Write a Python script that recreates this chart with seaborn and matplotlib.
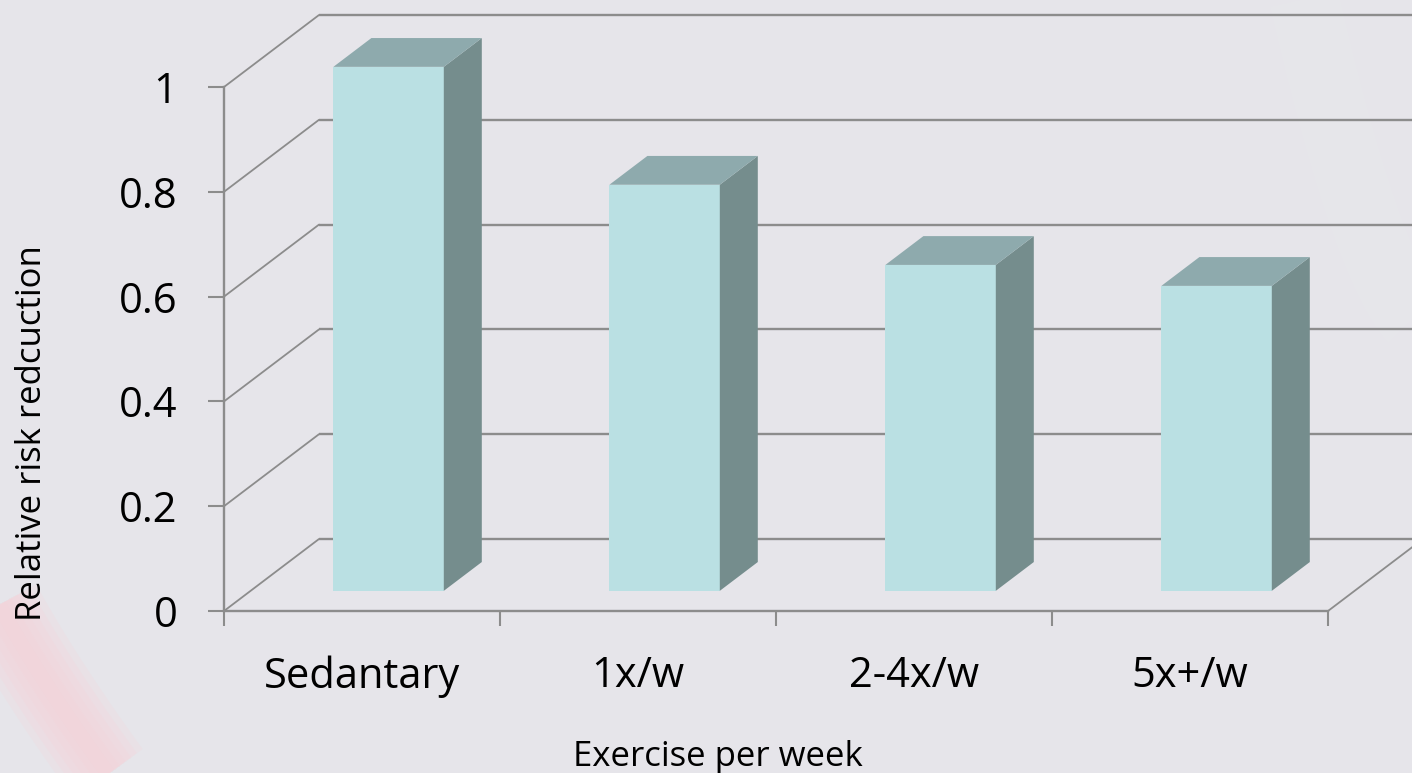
import matplotlib
matplotlib.use("Agg")
import matplotlib.pyplot as plt
import matplotlib.transforms as mtransforms
from matplotlib.patches import Polygon
from matplotlib.lines import Line2D
import numpy as np
import pandas as pd
import seaborn as sns

# ---- data -------------------------------------------------------------
categories = ["Sedantary", "1x/w", "2-4x/w", "5x+/w"]
risk = [1.0, 0.775, 0.622, 0.582]
y_ticks = [0, 0.2, 0.4, 0.6, 0.8, 1]
y_tick_labels = ["0", "0.2", "0.4", "0.6", "0.8", "1"]
x_title = "Exercise per week"
y_title = "Relative risk redcuction"

# ---- style ------------------------------------------------------------
BG = "#e6e5ea"
FRONT = "#bae0e3"
TOP = "#8eaaad"
SIDE = "#758d8d"
GRID = "#8c8c8c"
PINK = "#f7d3d9"

W, H, DPI = 1412, 773, 100

sns.set_theme(style="white", rc={"figure.facecolor": BG, "axes.facecolor": "none"})
plt.rcParams["font.family"] = ["Open Sans", "DejaVu Sans"]

fig = plt.figure(figsize=(W / DPI, H / DPI), dpi=DPI)
fig.patch.set_facecolor(BG)


def fpos(x, y):
    """Pixel position (from top-left) to figure fraction."""
    return x / W, 1 - y / H


def soft_band(xs, ys, color, width, alpha, layers=6):
    """A wide soft-edged stroke along a pixel path, drawn behind everything."""
    for k in range(layers):
        lw = width * (1 - k / layers)
        fig.add_artist(Line2D(np.asarray(xs) / W, 1 - np.asarray(ys) / H,
                              transform=fig.transFigure, color=color,
                              lw=lw * 72 / DPI, alpha=alpha,
                              solid_capstyle="butt", zorder=0))


# decorative slide background: pink sweep lower left, pale sweeps behind plot
t = np.linspace(0, 1, 60)
soft_band(-45 + 165 * t ** 1.3, 500 + 290 * t, PINK, 85, 0.22)
soft_band(960 - 330 * t ** 1.5, -20 + 620 * t, "white", 90, 0.03)
soft_band(1430 - 130 * t ** 0.6, 330 - 350 * t, "white", 70, 0.04)

# front plane of the plot box, in pixels
X0, X1, Y0, Y1 = 224, 1328, 611, 87
ax = fig.add_axes([X0 / W, 1 - Y0 / H, (X1 - X0) / W, (Y0 - Y1) / H])
ax.patch.set_alpha(0)

df = pd.DataFrame({"exercise": categories, "risk": risk})
sns.barplot(data=df, x="exercise", y="risk", color=FRONT, saturation=1,
            width=0.4, ax=ax, zorder=3)

ax.set_xlim(-0.5, len(categories) - 0.5)
ax.set_ylim(0, 1)

# depth of the box (in data units), derived from its projection in pixels
DX = 95 / ((X1 - X0) / len(categories))
DY = 72 / (Y0 - Y1)
xl, xr = -0.5, len(categories) - 0.5

# back wall gridlines and side-wall diagonals
for v in y_ticks:
    ax.plot([xl + DX, xr + DX + 0.2], [v + DY, v + DY], color=GRID, lw=1.7,
            clip_on=False, zorder=1, solid_capstyle="butt")
    ax.plot([xl, xl + DX], [v, v + DY], color=GRID, lw=1.3,
            clip_on=False, zorder=1)
# right edge of the floor
ax.plot([xr, xr + DX], [0, DY], color=GRID, lw=1.3, clip_on=False, zorder=1)

# turn the flat bars into boxes set into the middle of the depth
F0, F1 = 0.28, 0.68
bars = list(ax.patches)
for p in bars:
    x, w, h = p.get_x(), p.get_width(), p.get_height()
    p.set_transform(mtransforms.Affine2D().translate(F0 * DX, F0 * DY) + ax.transData)
    p.set_edgecolor("none")
    p.set_clip_on(False)
    xa, xb = x + w + F0 * DX, x + w + F1 * DX
    side = [(xa, F0 * DY), (xb, F1 * DY), (xb, h + F1 * DY), (xa, h + F0 * DY)]
    top = [(x + F0 * DX, h + F0 * DY), (xa, h + F0 * DY),
           (xb, h + F1 * DY), (x + F1 * DX, h + F1 * DY)]
    ax.add_patch(Polygon(side, closed=True, facecolor=SIDE, edgecolor="none",
                         zorder=3, clip_on=False))
    ax.add_patch(Polygon(top, closed=True, facecolor=TOP, edgecolor="none",
                         zorder=3, clip_on=False))

# axes frame
for s in ("top", "right"):
    ax.spines[s].set_visible(False)
for s in ("left", "bottom"):
    ax.spines[s].set_color(GRID)
    ax.spines[s].set_linewidth(1.7)
    ax.spines[s].set_zorder(2)

ax.set_yticks(y_ticks, labels=y_tick_labels)
ax.tick_params(axis="y", left=True, length=11.5, width=1.5, color=GRID,
               pad=22, labelsize=30, labelcolor="black", direction="out")

ax.set_xticks(range(len(categories)), labels=categories)
ax.set_xticks(np.arange(-0.5, len(categories)), minor=True)
ax.tick_params(axis="x", which="major", bottom=False, length=0, pad=32,
               labelsize=30, labelcolor="black")
ax.tick_params(axis="x", which="minor", bottom=True, length=11, width=1.5,
               color=GRID, direction="out")

ax.set_xlabel("")
ax.set_ylabel("")
fig.text(*fpos(718, 766), x_title, fontsize=25, color="black",
         ha="center", va="baseline")
fig.text(*fpos(32, 433), y_title, fontsize=25, color="black", rotation=90,
         ha="center", va="center")

fig.savefig("out.png", dpi=DPI, facecolor=BG)
